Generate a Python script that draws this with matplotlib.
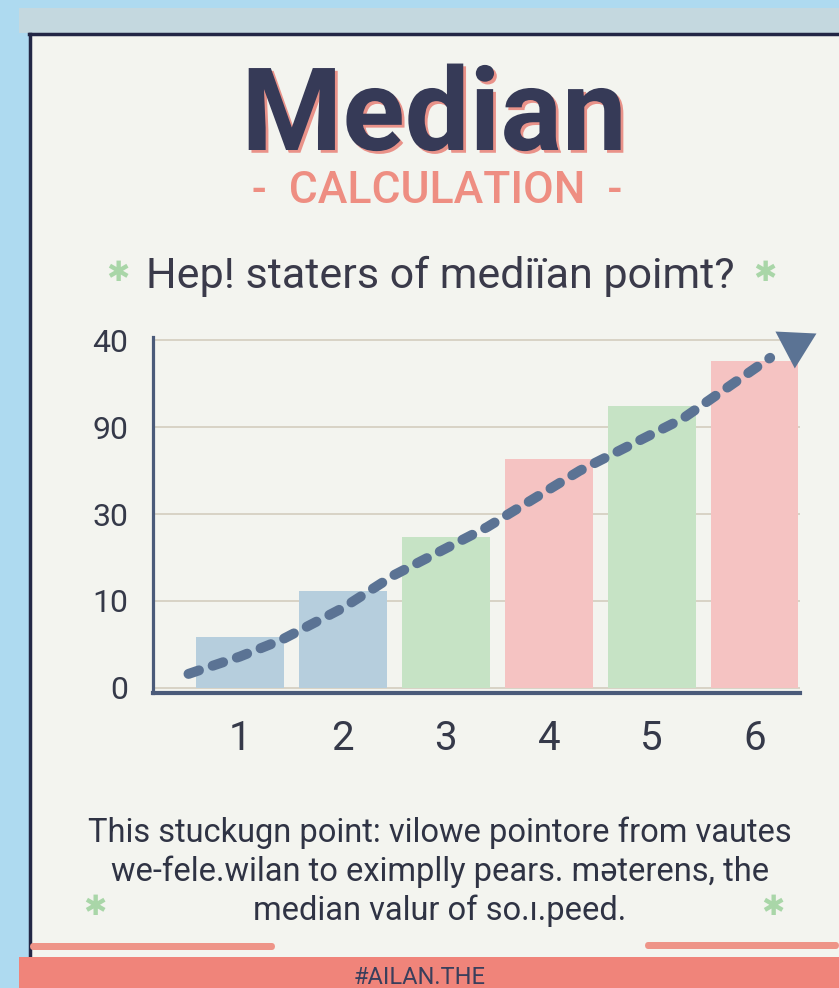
import matplotlib
matplotlib.use("Agg")
import matplotlib.pyplot as plt
import matplotlib.patheffects as pe
from matplotlib.patches import Rectangle, FancyBboxPatch
from matplotlib.lines import Line2D

plt.rcParams['font.family'] = ['Roboto', 'DejaVu Sans']

# data (values in grid units, tick labels as printed)
categories = ['1', '2', '3', '4', '5', '6']
bar_values = [0.58, 1.11, 1.74, 2.64, 3.24, 3.76]
bar_colors = ['#B6CEDD', '#B6CEDD', '#C6E3C5', '#F5C3C2', '#C6E3C5', '#F5C3C2']
ytick_pos = [0, 1, 2, 3, 4]
ytick_labels = ['0', '10', '30', '90', '40']
trend_x = [0.5, 1.0, 1.4, 2.0, 2.5, 3.4, 4.3, 5.3, 6.15]
trend_y = [0.16, 0.36, 0.55, 0.92, 1.3, 1.85, 2.5, 3.1, 3.8]
trend_tip = (6.6, 4.08)

W, H = 839, 988
fig = plt.figure(figsize=(8.39, 9.88), dpi=100)
fig.patch.set_facecolor('#AEDAF0')

def fx(px):
    return px / W

def fy(py):
    return 1 - py / H

# frame / panel
fig.patches.append(Rectangle((fx(19), fy(33)), 1, 25 / H, transform=fig.transFigure,
                             facecolor='#C4D8DF', edgecolor='none', zorder=-2))
fig.patches.append(Rectangle((fx(30), fy(957)), 1, (957 - 34) / H, transform=fig.transFigure,
                             facecolor='#F3F4EF', edgecolor='none', zorder=-2))
fig.lines.append(Line2D([fx(30), fx(30)], [fy(34), fy(957)], transform=fig.transFigure,
                        color='#222645', lw=2.5, zorder=-1))
fig.lines.append(Line2D([fx(29), 1], [fy(34), fy(34)], transform=fig.transFigure,
                        color='#222645', lw=2.5, zorder=-1))
# brush strokes + banner
for x0, x1, y0 in [(30, 275, 942), (645, 839, 941)]:
    fig.patches.append(FancyBboxPatch((fx(x0), fy(y0 + 8)), (x1 - x0) / W, 7 / H,
                                      boxstyle='round,pad=0,rounding_size=0.004',
                                      transform=fig.transFigure, facecolor='#EE9488',
                                      edgecolor='none', zorder=-1))
fig.patches.append(Rectangle((fx(19), 0), 1, (988 - 957) / H, transform=fig.transFigure,
                             facecolor='#F0847A', edgecolor='none', zorder=-1))

# titles
fig.text(fx(434), fy(150), 'Median', ha='center', va='baseline', fontsize=83,
         fontweight='bold', color='#363A57',
         path_effects=[pe.SimplePatchShadow(offset=(2, -2), shadow_rgbFace='#E8877E', alpha=0.9),
                       pe.Normal()])
fig.text(fx(437), fy(203), '-  CALCULATION  -', ha='center', va='baseline', fontsize=32,
         fontweight='medium', color='#EE8E82')
fig.text(fx(440), fy(288), 'Hep! staters of mediïan poimt?', ha='center', va='baseline',
         fontsize=31, color='#3A3A4A')
for sx, sy in [(118, 273), (765, 273), (95, 907), (773, 907)]:
    fig.text(fx(sx), fy(sy), '✱', ha='center', va='center', fontsize=20,
             color='#A9D6A8', family='DejaVu Sans')

# chart
ax = fig.add_axes([fx(153), fy(693), fx(800) - fx(153), (693 - 337) / H])
ax.set_facecolor('none')
ax.bar(range(1, 7), bar_values, width=0.85, color=bar_colors, zorder=2)
ax.set_xlim(0.155, 6.44)
ax.set_ylim(-0.06, 4.04)
ax.set_yticks(ytick_pos)
ax.set_yticklabels(ytick_labels)
ax.set_xticks(range(1, 7))
ax.set_xticklabels(categories)
ax.tick_params(axis='y', length=0, pad=18, labelsize=23, labelcolor='#353949')
ax.tick_params(axis='x', length=0, pad=19, labelsize=29, labelcolor='#353949')
ax.set_axisbelow(True)
ax.yaxis.grid(True, color='#D6D0C2', lw=1.3)
for s in ['top', 'right']:
    ax.spines[s].set_visible(False)
ax.spines['left'].set_color('#4A5A79')
ax.spines['left'].set_linewidth(2.3)
ax.spines['bottom'].set_color('#4A5A79')
ax.spines['bottom'].set_linewidth(3)

ax.plot(trend_x, trend_y, color='#5B7394', lw=7.2, linestyle=(0, (1.1, 1.45)),
        dash_capstyle='round', solid_capstyle='round', zorder=4, clip_on=False)
ax.annotate('', xy=trend_tip, xytext=(trend_x[-1], trend_y[-1]), annotation_clip=False,
            arrowprops=dict(arrowstyle='-|>,head_length=0.85,head_width=0.5',
                            mutation_scale=30, color='#5B7394', lw=0, shrinkA=0, shrinkB=0),
            zorder=5)

# body text
body = ['This stuckugn point: vilowe pointore from vautes',
        'we-fele.wilan to eximplly pears. mәterens, the',
        'median valur of so.ı.peed.']
for i, line in enumerate(body):
    fig.text(fx(440), fy(842 + 39 * i), line, ha='center', va='baseline', fontsize=23.5,
             color='#2F3344')

fig.text(fx(420), fy(984), '#AILAN.THE', ha='center', va='baseline', fontsize=17,
         color='#3A3F5C')

fig.savefig('out.png', dpi=100, facecolor=fig.get_facecolor())
